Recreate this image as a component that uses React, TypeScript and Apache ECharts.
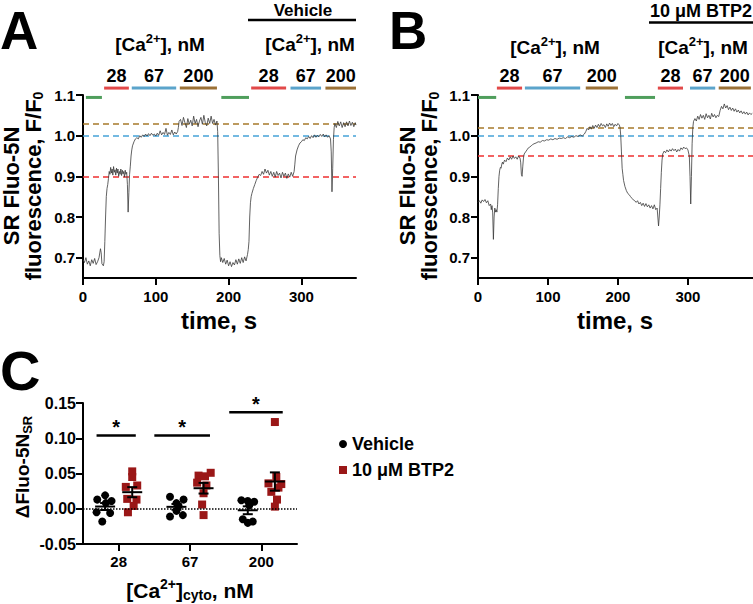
import React, { useEffect, useRef } from 'react';
import * as echarts from 'echarts';

const FONT = '"Liberation Sans", Arial, Helvetica, sans-serif';

// ---------- Panel A / B traces: [time s, F/F0] ----------
const traceA: number[][] = [
  [0,.695],[2,.688],[4,.700],[6,.684],[8,.692],[10,.680],[12,.695],[14,.686],[16,.698],[18,.683],[20,.690],[22,.700],[24,.722],[25,.712],[26,.685],[28,.680],[29,.690],[30,.740],[31,.800],[32,.850],[33,.870],[34,.880],[35,.895],[36,.912],[37,.905],[38,.922],[39,.908],[40,.918],[41,.903],[42,.924],[43,.910],[44,.916],[45,.903],[46,.920],[47,.908],[48,.918],[49,.900],[50,.912],[51,.905],[52,.918],[53,.902],[54,.915],[55,.906],[56,.912],[57,.898],[58,.915],[59,.905],[60,.910],[61,.880],[62,.812],[63,.860],[64,.905],[65,.925],[66,.950],[67,.965],[68,.975],[70,.985],[72,.992],[74,.995],[76,.992],[78,1.000],[80,.996],[82,1.002],[84,.998],[86,1.004],[88,.999],[90,1.005],[92,1.000],[94,1.006],[96,1.001],[98,1.004],[100,.999],[102,1.006],[104,1.001],[106,1.012],[108,1.002],[110,1.008],[112,1.003],[114,1.018],[116,1.001],[118,1.008],[120,1.003],[122,1.014],[124,1.002],[126,1.009],[128,1.004],[130,1.010],[131,1.020],[132,1.035],[134,1.040],[136,1.025],[138,1.045],[140,1.032],[142,1.020],[144,1.042],[146,1.028],[148,1.038],[150,1.024],[152,1.048],[154,1.030],[156,1.040],[158,1.022],[160,1.036],[162,1.045],[164,1.028],[166,1.050],[168,1.032],[170,1.024],[172,1.043],[174,1.030],[176,1.048],[178,1.030],[180,1.040],[182,1.026],[184,1.036],[185,1.010],[186,.900],[187,.760],[188,.705],[189,.690],[190,.700],[192,.688],[194,.698],[196,.684],[198,.694],[200,.680],[202,.690],[204,.678],[206,.688],[208,.682],[210,.695],[212,.684],[214,.697],[216,.686],[218,.700],[220,.688],[222,.702],[224,.692],[226,.708],[227,.720],[228,.740],[229,.800],[230,.835],[231,.850],[232,.858],[234,.870],[236,.880],[238,.890],[240,.898],[242,.905],[244,.902],[246,.912],[248,.905],[250,.918],[252,.908],[254,.915],[256,.903],[258,.912],[260,.900],[262,.910],[264,.898],[266,.912],[268,.902],[270,.908],[272,.896],[274,.910],[276,.900],[278,.908],[280,.895],[282,.906],[284,.898],[286,.910],[288,.900],[290,.912],[291,.930],[292,.950],[294,.965],[296,.975],[298,.982],[300,.985],[302,.990],[304,.988],[306,.995],[308,.992],[310,.998],[312,.993],[314,1.000],[316,.995],[318,1.002],[320,.996],[322,1.001],[324,.997],[326,1.003],[328,.998],[330,1.004],[332,.997],[334,1.002],[336,.996],[338,1.000],[340,.992],[341,.960],[342,.862],[343,.920],[344,.990],[345,1.020],[346,1.030],[348,1.020],[350,1.035],[352,1.024],[354,1.034],[356,1.020],[358,1.032],[360,1.022],[362,1.034],[364,1.024],[366,1.036],[368,1.025],[370,1.033],[372,1.022],[374,1.032],[375,1.026],
];

const traceB: number[][] = [
  [0,.836],[2,.840],[4,.834],[6,.842],[8,.838],[10,.843],[12,.835],[14,.840],[16,.828],[18,.832],[19,.818],[20,.828],[21,.810],[22,.745],[23,.800],[24,.822],[25,.812],[26,.818],[27,.812],[28,.830],[29,.870],[30,.900],[31,.915],[32,.922],[33,.920],[34,.930],[35,.935],[36,.930],[38,.940],[40,.936],[42,.945],[44,.940],[46,.948],[48,.942],[50,.950],[52,.944],[54,.948],[56,.942],[58,.950],[60,.945],[61,.935],[62,.905],[63,.900],[64,.925],[65,.945],[66,.955],[68,.960],[70,.965],[72,.970],[74,.972],[76,.975],[78,.978],[80,.980],[83,.982],[86,.985],[89,.984],[92,.988],[95,.987],[98,.990],[101,.989],[104,.992],[107,.990],[110,.993],[113,.991],[116,.994],[119,.993],[122,.995],[125,.993],[128,.997],[131,.995],[134,.998],[137,.996],[140,1.000],[143,.998],[146,1.002],[149,.999],[152,1.004],[154,1.010],[156,1.018],[158,1.014],[160,1.022],[162,1.016],[164,1.025],[166,1.018],[168,1.026],[170,1.020],[172,1.028],[174,1.022],[176,1.030],[178,1.024],[180,1.027],[182,1.020],[184,1.029],[186,1.023],[188,1.031],[190,1.025],[192,1.030],[194,1.022],[196,1.028],[198,1.024],[200,1.030],[202,1.026],[203,1.020],[204,1.000],[205,.960],[206,.920],[207,.905],[208,.890],[210,.875],[212,.865],[214,.858],[216,.855],[218,.850],[220,.846],[222,.842],[224,.840],[226,.836],[228,.840],[230,.832],[232,.836],[234,.828],[236,.834],[238,.826],[240,.833],[242,.825],[244,.830],[246,.822],[248,.828],[250,.820],[252,.830],[254,.818],[256,.822],[257,.800],[258,.778],[259,.800],[260,.830],[261,.870],[262,.910],[263,.940],[264,.955],[266,.962],[268,.958],[270,.965],[272,.960],[274,.966],[276,.962],[278,.968],[280,.963],[282,.967],[284,.960],[286,.966],[288,.962],[290,.970],[292,.966],[294,.972],[296,.968],[298,.970],[300,.965],[302,.950],[303,.900],[304,.832],[305,.900],[306,.980],[307,1.020],[308,1.035],[310,1.042],[312,1.036],[314,1.048],[316,1.040],[318,1.052],[320,1.043],[322,1.050],[324,1.040],[326,1.054],[328,1.044],[330,1.050],[332,1.041],[334,1.055],[336,1.046],[338,1.052],[340,1.044],[342,1.050],[344,1.047],[346,1.062],[348,1.072],[350,1.066],[352,1.078],[354,1.068],[356,1.074],[358,1.064],[360,1.070],[362,1.062],[364,1.068],[366,1.060],[368,1.066],[370,1.058],[372,1.063],[374,1.056],[376,1.061],[378,1.054],[380,1.059],[382,1.053],[384,1.058],[386,1.051],[388,1.056],[390,1.052],[392,1.055],
];

// dashed reference levels (order: 200, 67, 28 nM)
const refKinds = ['200', '67', '28'];
const refA = [1.029, 1.0, 0.903];
const refB = [1.019, 1.0, 0.949];

// solution application periods (s)
const solKinds = ['wash', '28', '67', '200', 'wash', '28', '67', '200'];
const solStartA = [4, 29, 67, 133, 190, 231, 285, 333];
const solEndA = [26, 63, 128, 184, 228, 279, 327, 375];
const solStartB = [0, 27, 67, 154, 210, 257, 303, 344];
const solEndB = [26, 63, 146, 200, 253, 293, 339, 390];

const timeTicks = [0, 100, 200, 300];
const fluoTicks = [0.7, 0.8, 0.9, 1.0, 1.1];

// ---------- Panel C ----------
const categories = ['28', '67', '200'];
const vehicle28 = [0.019, 0.013, 0.011, 0.008, -0.005, -0.006, -0.018];
const vehicle67 = [0.017, 0.013, 0.008, 0.004, -0.003, -0.009, -0.011];
const vehicle200 = [0.012, 0.011, 0.010, 0.005, -0.015, -0.018, -0.020];
const btp28 = [0.053, 0.045, 0.033, 0.031, 0.014, 0.013, 0.004, -0.005];
const btp67 = [0.051, 0.047, 0.046, 0.037, 0.033, 0.022, 0.006, -0.009];
const btp200 = [0.123, 0.045, 0.036, 0.035, 0.030, 0.024, 0.013, 0.003];
// horizontal scatter jitter (category units)
const vehJit28 = [0, -0.11, 0.09, 0.01, -0.12, 0.07, -0.04];
const vehJit67 = [-0.09, 0.10, 0, 0.03, 0, 0.09, -0.09];
const vehJit200 = [-0.09, 0, 0.09, 0.02, -0.07, 0.07, 0];
const btpJit28 = [0, 0, 0.07, -0.09, -0.07, 0.06, 0.02, -0.06];
const btpJit67 = [0.10, -0.07, 0.02, -0.09, 0.04, 0, -0.02, 0];
const btpJit200 = [0, 0.02, -0.09, 0.09, 0.05, -0.05, 0.03, 0];
// significance bars
const sigStart = [-0.31, 0.50, 1.55];
const sigEnd = [0.24, 1.28, 2.30];
const sigLevel = [0.104, 0.104, 0.137];

// ---------- styles ----------
const KIND_COLOR: Record<string, string> = { wash: '#4f9e5c', '28': '#e24949', '67': '#5ba4cb', '200': '#9b7136' };
const REF_COLOR: Record<string, string> = { '200': '#a77a2a', '67': '#45a3d8', '28': '#ee3030' };
const WASH_LEVEL = 1.094;
const SOL_LEVEL = 1.117;
const VEH_OFF = -0.19;
const BTP_OFF = 0.19;
const BTP_COLOR = '#9a1717';

const txt = (size: number) => ({ fill: '#000', fontSize: size, fontWeight: 'bold', fontFamily: FONT });
const richFor = (size: number) => ({
  sup: { ...txt(size), padding: [0, 0, 12, 0] },
  sub: { ...txt(size), padding: [10, 0, 0, 0] },
});

function gText(x: number, y: number, text: string, size: number, opts: any = {}) {
  const { rotation, align, small, lineHeight } = opts;
  return {
    type: 'text', x, y, rotation: rotation || 0, silent: true, z: 50,
    style: {
      text, ...txt(size),
      ...(lineHeight ? { lineHeight } : {}),
      align: align || 'center', textAlign: align || 'center',
      verticalAlign: 'middle', textVerticalAlign: 'middle',
      rich: richFor(small || Math.round(size * 0.68)),
    },
  };
}

const axisLineStyle = { color: '#000', width: 2 };
function valueAxis(grid: number, min: number, max: number, ticks: number[] | null, fmt: (v: number) => string, margin: number, extra: any = {}) {
  return {
    type: 'value', gridIndex: grid, min, max,
    axisLine: { show: true, onZero: false, lineStyle: axisLineStyle },
    axisTick: { show: true, length: 7, lineStyle: axisLineStyle, ...(ticks ? { customValues: ticks } : {}) },
    axisLabel: { show: true, ...(ticks ? { customValues: ticks } : {}), formatter: fmt, color: '#000', fontSize: 15, fontWeight: 'bold', fontFamily: FONT, margin },
    splitLine: { show: false },
    ...extra,
  };
}

function solutionSeries(idx: number, starts: number[], ends: number[]) {
  return {
    type: 'custom', xAxisIndex: idx, yAxisIndex: idx, clip: false, silent: true, z: 10,
    data: starts.map((s, i) => [s, ends[i], i]),
    renderItem: (_p: any, api: any) => {
      const i = api.value(2);
      const kind = solKinds[i];
      const lvl = kind === 'wash' ? WASH_LEVEL : SOL_LEVEL;
      const p1 = api.coord([api.value(0), lvl]);
      const p2 = api.coord([api.value(1), lvl]);
      const children: any[] = [
        { type: 'line', shape: { x1: p1[0], y1: p1[1], x2: p2[0], y2: p2[1] }, style: { stroke: KIND_COLOR[kind], lineWidth: 3 } },
      ];
      if (kind !== 'wash') {
        children.push({
          type: 'text', x: (p1[0] + p2[0]) / 2, y: p1[1] - 12,
          style: { text: kind, ...txt(18), align: 'center', textAlign: 'center', verticalAlign: 'middle', textVerticalAlign: 'middle' },
        });
      }
      return { type: 'group', children };
    },
  };
}

function traceSeries(idx: number, data: number[][], refs: number[]) {
  return {
    type: 'line', xAxisIndex: idx, yAxisIndex: idx, data, showSymbol: false, symbol: 'none', silent: true,
    lineStyle: { color: '#3a3a3a', width: 0.8 }, z: 3,
    markLine: {
      silent: true, symbol: ['none', 'none'], label: { show: false }, z: 2,
      data: refs.map((v, i) => ({ yAxis: v, lineStyle: { color: REF_COLOR[refKinds[i]], type: [6, 4], width: 1.5 } })),
    },
  };
}

function mean(a: number[]) { return a.reduce((s, v) => s + v, 0) / a.length; }
function sem(a: number[]) {
  const m = mean(a);
  const sd = Math.sqrt(a.reduce((s, v) => s + (v - m) * (v - m), 0) / (a.length - 1));
  return sd / Math.sqrt(a.length);
}

export default function App() {
  const ref = useRef<HTMLDivElement>(null);
  useEffect(() => {
    const chart = echarts.init(ref.current!, null, { renderer: 'svg' });
    const vehGroups = [vehicle28, vehicle67, vehicle200];
    const btpGroups = [btp28, btp67, btp200];
    const vehJit = [vehJit28, vehJit67, vehJit200];
    const btpJit = [btpJit28, btpJit67, btpJit200];
    const vehData = vehGroups.flatMap((vals, c) => vals.map((v, k) => [c + VEH_OFF + vehJit[c][k], v]));
    const btpData = btpGroups.flatMap((vals, c) => vals.map((v, k) => [c + BTP_OFF + btpJit[c][k], v]));
    const statData = [
      ...vehGroups.map((g, c) => [c + VEH_OFF, mean(g), sem(g)]),
      ...btpGroups.map((g, c) => [c + BTP_OFF, mean(g), sem(g)]),
    ];
    const sigData = sigStart.map((s, i) => [s, sigEnd[i], sigLevel[i]]);

    const option: any = {
      animation: false,
      backgroundColor: '#fff',
      textStyle: { fontFamily: FONT },
      grid: [
        { left: 83, top: 95, width: 273, height: 183, outerBoundsMode: 'none', containLabel: false },
        { left: 478, top: 95, width: 275, height: 183, outerBoundsMode: 'none', containLabel: false },
        { left: 83, top: 403, width: 214, height: 141, outerBoundsMode: 'none', containLabel: false },
      ],
      xAxis: [
        valueAxis(0, 0, 375, timeTicks, (v: number) => String(v), 11),
        valueAxis(1, 0, 393, timeTicks, (v: number) => String(v), 11),
        {
          type: 'category', gridIndex: 2, data: categories, boundaryGap: true,
          axisLine: { show: true, onZero: false, lineStyle: axisLineStyle },
          axisTick: { show: true, alignWithLabel: true, length: 7, lineStyle: axisLineStyle },
          axisLabel: { color: '#000', fontSize: 15, fontWeight: 'bold', fontFamily: FONT, margin: 10 },
          splitLine: { show: false },
        },
        { type: 'value', gridIndex: 2, min: -0.5, max: 2.5, show: false, position: 'top' },
      ],
      yAxis: [
        valueAxis(0, 0.65, 1.1, fluoTicks, (v: number) => v.toFixed(1), 8),
        valueAxis(1, 0.65, 1.1, fluoTicks, (v: number) => v.toFixed(1), 8),
        {
          ...valueAxis(2, -0.05, 0.15, null, (v: number) => v.toFixed(2), 7),
          interval: 0.05,
          axisLabel: { formatter: (v: number) => v.toFixed(2), color: '#000', fontSize: 16, fontWeight: 'bold', fontFamily: FONT, margin: 7 },
        },
      ],
      legend: {
        left: 334, top: 430, orient: 'vertical', itemGap: 8, itemWidth: 8, itemHeight: 8, selectedMode: false,
        textStyle: { color: '#000', fontSize: 18, fontWeight: 'bold', fontFamily: FONT, padding: [0, 0, 0, 0] },
        data: [
          { name: 'Vehicle', icon: 'circle', itemStyle: { color: '#000', opacity: 1 } },
          { name: '10 μM BTP2', icon: 'rect', itemStyle: { color: BTP_COLOR, opacity: 1 } },
        ],
      },
      series: [
        traceSeries(0, traceA, refA),
        traceSeries(1, traceB, refB),
        solutionSeries(0, solStartA, solEndA),
        solutionSeries(1, solStartB, solEndB),
        {
          name: 'Vehicle', type: 'scatter', xAxisIndex: 3, yAxisIndex: 2, data: vehData,
          symbol: 'circle', symbolSize: 8, itemStyle: { color: '#000', opacity: 1 }, z: 3, silent: true,
          markLine: {
            silent: true, symbol: ['none', 'none'], label: { show: false },
            lineStyle: { type: 'dotted', color: '#000', width: 1.5 }, data: [{ yAxis: 0 }],
          },
        },
        {
          name: '10 μM BTP2', type: 'scatter', xAxisIndex: 3, yAxisIndex: 2, data: btpData,
          symbol: 'rect', symbolSize: 8, itemStyle: { color: BTP_COLOR, opacity: 1 }, z: 3, silent: true,
        },
        {
          type: 'custom', xAxisIndex: 3, yAxisIndex: 2, silent: true, z: 6, clip: false, data: statData,
          renderItem: (_p: any, api: any) => {
            const x = api.value(0), m = api.value(1), s = api.value(2);
            const c = api.coord([x, m]);
            const t = api.coord([x, m + s]);
            const b = api.coord([x, m - s]);
            const st = { stroke: '#000', lineWidth: 2 };
            return {
              type: 'group', children: [
                { type: 'line', shape: { x1: c[0] - 10, y1: c[1], x2: c[0] + 10, y2: c[1] }, style: st },
                { type: 'line', shape: { x1: c[0], y1: t[1], x2: c[0], y2: b[1] }, style: st },
                { type: 'line', shape: { x1: c[0] - 5, y1: t[1], x2: c[0] + 5, y2: t[1] }, style: st },
                { type: 'line', shape: { x1: c[0] - 5, y1: b[1], x2: c[0] + 5, y2: b[1] }, style: st },
              ],
            };
          },
        },
        {
          type: 'custom', xAxisIndex: 3, yAxisIndex: 2, silent: true, z: 6, clip: false, data: sigData,
          renderItem: (_p: any, api: any) => {
            const p1 = api.coord([api.value(0), api.value(2)]);
            const p2 = api.coord([api.value(1), api.value(2)]);
            return {
              type: 'group', children: [
                { type: 'line', shape: { x1: p1[0], y1: p1[1], x2: p2[0], y2: p2[1] }, style: { stroke: '#000', lineWidth: 2.5 } },
                { type: 'text', x: (p1[0] + p2[0]) / 2, y: p1[1] - 8, style: { text: '*', ...txt(20), align: 'center', textAlign: 'center', verticalAlign: 'middle', textVerticalAlign: 'middle' } },
              ],
            };
          },
        },
      ],
      graphic: [
        gText(0, 30, 'A', 53, { align: 'left', lineHeight: 44 }),
        gText(389, 30, 'B', 53, { align: 'left', lineHeight: 44 }),
        gText(0, 370, 'C', 56, { align: 'left', lineHeight: 44 }),
        // panel A headers
        gText(160, 44, '[Ca{sup|2+}], nM', 19, { small: 13 }),
        gText(310, 44, '[Ca{sup|2+}], nM', 19, { small: 13 }),
        gText(303, 10, 'Vehicle', 17, { lineHeight: 16 }),
        { type: 'line', silent: true, shape: { x1: 248, y1: 20, x2: 356, y2: 20 }, style: { stroke: '#000', lineWidth: 2.5 } },
        // panel B headers
        gText(555, 47, '[Ca{sup|2+}], nM', 19, { small: 13 }),
        gText(703, 47, '[Ca{sup|2+}], nM', 19, { small: 13 }),
        gText(701, 11, '10 μM BTP2', 18, { lineHeight: 18 }),
        { type: 'line', silent: true, shape: { x1: 649, y1: 22.5, x2: 753, y2: 22.5 }, style: { stroke: '#000', lineWidth: 2.5 } },
        // y labels
        gText(11, 186, 'SR Fluo-5N', 22, { rotation: Math.PI / 2 }),
        gText(33, 186, 'fluorescence, F/F{sub|0}', 22, { rotation: Math.PI / 2, small: 14 }),
        gText(407, 186, 'SR Fluo-5N', 22, { rotation: Math.PI / 2 }),
        gText(429, 186, 'fluorescence, F/F{sub|0}', 22, { rotation: Math.PI / 2, small: 14 }),
        gText(22, 467, 'ΔFluo-5N{sub|SR}', 19, { rotation: Math.PI / 2, small: 13 }),
        // x titles
        gText(219, 320, 'time, s', 24),
        gText(615, 320, 'time, s', 24),
        gText(190, 590, '[Ca{sup|2+}]{sub|cyto}, nM', 21, { small: 14 }),
      ],
    };
    chart.setOption(option);
    return () => chart.dispose();
  }, []);
  return <div ref={ref} style={{ position: 'absolute', left: 0, top: 0, width: 753, height: 604, background: '#fff' }} />;
}
